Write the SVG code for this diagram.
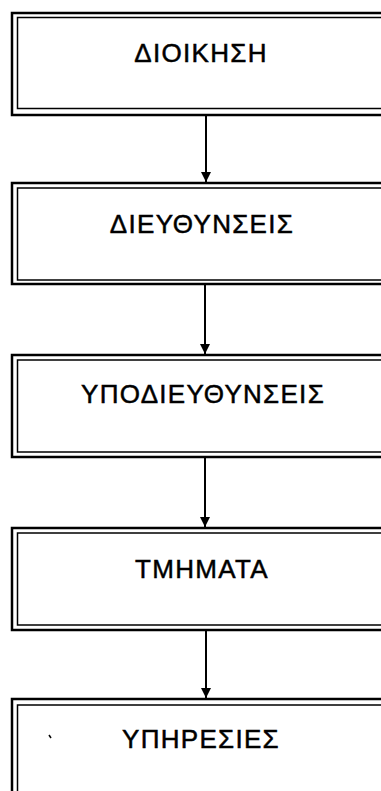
<svg xmlns="http://www.w3.org/2000/svg" width="381" height="791" viewBox="0 0 381 791">
<style>
.outer{fill:none;stroke:#000;stroke-width:2.5}
.inner{fill:none;stroke:#000;stroke-width:1.5}
.lbl{font-family:"Liberation Sans",Arial,sans-serif;font-size:26px;letter-spacing:1.3px;text-anchor:middle;fill:#000;stroke:#000;stroke-width:0.5}
.conn{stroke:#000;stroke-width:2;fill:none}
</style>
<defs>
<marker id="arr" viewBox="0 0 10 10" refX="10" refY="5" markerWidth="5" markerHeight="5.5" orient="auto" markerUnits="strokeWidth">
<path d="M0,0 L10,5 L0,10 Z" fill="#000"/>
</marker>
</defs>
<rect width="381" height="791" fill="#fff"/>
<g id="node-dioikisi">
<rect class="outer" x="12" y="13" width="400" height="102"/>
<rect class="inner" x="17.5" y="17.5" width="400" height="91"/>
<text class="lbl" x="201" y="62">ΔΙΟΙΚΗΣΗ</text>
</g>
<g id="node-dieythynseis">
<rect class="outer" x="12" y="183" width="400" height="101"/>
<rect class="inner" x="17.5" y="188" width="400" height="92"/>
<text class="lbl" x="202" y="233">ΔΙΕΥΘΥΝΣΕΙΣ</text>
</g>
<g id="node-ypodieythynseis">
<rect class="outer" x="12" y="355" width="400" height="102"/>
<rect class="inner" x="17.5" y="360" width="400" height="92"/>
<text class="lbl" x="203" y="403">ΥΠΟΔΙΕΥΘΥΝΣΕΙΣ</text>
</g>
<g id="node-tmimata">
<rect class="outer" x="12" y="528" width="400" height="102"/>
<rect class="inner" x="17.5" y="533" width="400" height="92"/>
<text class="lbl" x="202" y="578">ΤΜΗΜΑΤΑ</text>
</g>
<g id="node-ypiresies">
<rect class="outer" x="12" y="699" width="400" height="120"/>
<rect class="inner" x="17.5" y="705" width="400" height="120"/>
<text class="lbl" x="201" y="748">ΥΠΗΡΕΣΙΕΣ</text>
<line x1="49" y1="735" x2="51" y2="738" stroke="#000" stroke-width="1.5"/>
</g>
<g id="connectors">
<line class="conn" x1="206" y1="116" x2="206" y2="182" marker-end="url(#arr)"/>
<line class="conn" x1="205" y1="285" x2="205" y2="354" marker-end="url(#arr)"/>
<line class="conn" x1="205" y1="458" x2="205" y2="527" marker-end="url(#arr)"/>
<line class="conn" x1="206" y1="631" x2="206" y2="698" marker-end="url(#arr)"/>
</g>
</svg>
